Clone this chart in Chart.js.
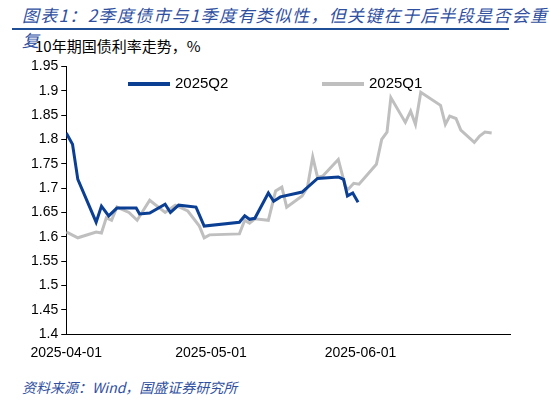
<!DOCTYPE html>
<html>
<head>
<meta charset="utf-8">
<script src="https://cdn.jsdelivr.net/npm/chart.js@4"></script>
<style>
  body { margin: 0; width: 550px; height: 402px; background: #fff; font-family: "Liberation Sans", Arial, sans-serif; position: relative; overflow: hidden; }
  #title { position: absolute; left: 22px; top: 2px; font-size: 17px; font-style: italic; color: #2f4f9f; font-family: "Noto Sans CJK SC", sans-serif; letter-spacing: 1.3px; }
  #rule { position: absolute; left: 12px; top: 28px; width: 497px; height: 2px; background: #1f4e96; }
  #sub { position: absolute; left: 35px; top: 35px; font-size: 15px; color: #000; font-family: "Noto Sans CJK SC", sans-serif; }
  #src { position: absolute; left: 22px; top: 377px; font-size: 14px; font-style: italic; color: #2f4f9f; font-family: "Noto Sans CJK SC", sans-serif; }
  #wrap { position: absolute; left: 0; top: 55px; width: 550px; height: 310px; }
  .leg { position: absolute; top: 74px; font-size: 15px; color: #000; font-family: "Liberation Sans", sans-serif; }
  .leg span { display: inline-block; width: 42px; height: 4px; vertical-align: middle; margin-right: 5px; }
</style>
</head>
<body>
<div id="title">图表1：2季度债市与1季度有类似性，但关键在于后半段是否会重复</div>
<div id="rule"></div>
<div id="sub">10年期国债利率走势，%</div>
<div id="wrap"><canvas id="c"></canvas></div>
<div class="leg" style="left:128px"><span style="background:#0b3f94"></span>2025Q2</div>
<div class="leg" style="left:322px"><span style="background:#bfbfbf"></span>2025Q1</div>
<div id="src">资料来源：Wind，国盛证券研究所</div>
<script>
// x = days since the start of the quarter
const q2Days = [0, 1.3, 2.4, 6.2, 7.3, 8.8, 10.5, 14.5, 15.2, 17.3, 20.5, 21.6, 23.3, 26.9, 28.6, 35.9, 37, 38, 39.1, 41.9, 43, 44.4, 48.9, 52.1, 56.4, 57.5, 58.3, 59.4, 60.5];
const q2Yield = [1.813, 1.79, 1.718, 1.63, 1.663, 1.643, 1.659, 1.659, 1.647, 1.649, 1.667, 1.65, 1.665, 1.661, 1.622, 1.63, 1.643, 1.636, 1.638, 1.69, 1.673, 1.682, 1.692, 1.72, 1.723, 1.718, 1.684, 1.69, 1.671];

const q1Days = [0, 2.4, 6.2, 7.3, 8.3, 9.4, 10.5, 13, 14.7, 17.3, 20.5, 22.6, 25.2, 27.6, 28.6, 29.7, 35.9, 37, 38, 39.1, 41.9, 43.4, 44.7, 45.7, 48.9, 50, 51.1, 52.1, 53.2, 56.4, 57.9, 58.5, 59.6, 60.7, 64.3, 65.4, 66.5, 67.3, 70.3, 71.4, 72.4, 73.5, 77.6, 78.6, 79.5, 80.8, 81.8, 84.6, 85.7, 86.8, 88.2];
const q1Yield = [1.61, 1.598, 1.61, 1.608, 1.639, 1.634, 1.661, 1.65, 1.634, 1.675, 1.65, 1.665, 1.653, 1.622, 1.598, 1.604, 1.606, 1.634, 1.628, 1.637, 1.634, 1.694, 1.702, 1.661, 1.684, 1.702, 1.764, 1.722, 1.725, 1.759, 1.702, 1.698, 1.71, 1.708, 1.749, 1.80, 1.815, 1.886, 1.835, 1.858, 1.831, 1.897, 1.87, 1.831, 1.848, 1.843, 1.819, 1.794, 1.807, 1.815, 1.813];

const tickDays = [0, 30, 61];
const tickLabels = ['2025-04-01', '2025-05-01', '2025-06-01'];

function pts(xs, ys) {
  return xs.map((x, i) => ({ x: x, y: ys[i] }));
}

new Chart(document.getElementById('c'), {
  type: 'line',
  data: {
    datasets: [
      { label: '2025Q2', data: pts(q2Days, q2Yield), borderColor: '#0b3f94', borderWidth: 3, pointRadius: 0, tension: 0 },
      { label: '2025Q1', data: pts(q1Days, q1Yield), borderColor: '#bfbfbf', borderWidth: 3, pointRadius: 0, tension: 0 }
    ]
  },
  options: {
    responsive: true,
    maintainAspectRatio: false,
    animation: false,
    layout: { padding: { left: 28, right: 40, top: 9, bottom: 0 } },
    plugins: { legend: { display: false }, tooltip: { enabled: false } },
    scales: {
      x: {
        type: 'linear', min: 0, max: 92,
        afterBuildTicks: axis => { axis.ticks = tickDays.map(v => ({ value: v })); },
        ticks: {
          callback: v => tickLabels[tickDays.indexOf(v)],
          font: { size: 14, family: 'Liberation Sans' }, color: '#000', maxRotation: 0
        },
        grid: { display: false },
        border: { color: '#000' }
      },
      y: {
        min: 1.4, max: 1.95,
        ticks: { stepSize: 0.05, callback: v => Math.round(v * 100) / 100, font: { size: 14, family: 'Liberation Sans' }, color: '#000' },
        grid: { drawOnChartArea: false, tickLength: 5, color: '#000' },
        border: { color: '#000' }
      }
    }
  }
});
</script>
</body>
</html>
